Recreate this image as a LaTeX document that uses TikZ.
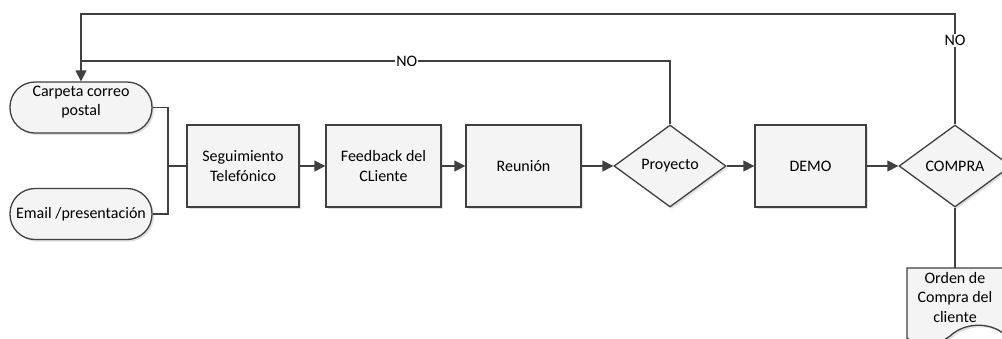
\documentclass[tikz,border=0pt]{standalone}
\usepackage{fontspec}
\setmainfont{Carlito}
\usepackage{xcolor}
\usetikzlibrary{shapes.geometric,arrows.meta,shadows}

\definecolor{linea}{HTML}{404040}
\definecolor{relleno}{HTML}{F4F4F4}

\tikzset{
	base/.style={draw=linea, line width=1.3pt, fill=relleno, inner sep=0pt, align=center,
		drop shadow={shadow xshift=2pt, shadow yshift=-2pt, fill=black!12, opacity=1}},
	inicio/.style={base, rectangle, rounded corners=25pt, minimum width=142pt, minimum height=51pt},
	paso/.style={base, rectangle, minimum height=82pt},
	decision/.style={base, diamond, aspect=1.366, minimum width=112pt, minimum height=82pt},
	conector/.style={draw=linea, line width=1.3pt},
	flecha/.style={conector, -{Triangle[length=11pt,width=11pt]}},
	etiq/.style={fill=white, inner sep=1pt}
}

\begin{document}
\begin{tikzpicture}[x=1pt, y=-1pt, font=\fontsize{16}{19.5}\selectfont, text=black]
	\useasboundingbox[fill=white] (0,0) rectangle (1002,338);

	\node[inicio, text depth=13pt] (carpeta) at (81,107.5) {Carpeta correo\\postal};
	\node[inicio] (email) at (81,214) {Email /presentación};
	\node[paso, minimum width=112pt] (seg) at (243,166) {Seguimiento\\Telefónico};
	\node[paso, minimum width=115pt] (feed) at (383.5,166) {Feedback del\\CLiente};
	\node[paso, minimum width=115pt] (reun) at (523.5,166) {Reunión};
	\node[decision] (proy) at (670,166) {Proyecto};
	\node[paso, minimum width=111pt] (demo) at (810.5,166) {DEMO};
	\node[decision] (compra) at (955,166) {COMPRA};

	% documento
	\filldraw[conector, fill=relleno, drop shadow={shadow xshift=2pt, shadow yshift=-2pt, fill=black!12, opacity=1}]
		(907,268) -- (1004,268) -- (1004,334) .. controls (990,322) and (965,322) .. (950,336)
		.. controls (935,348) and (915,345) .. (907,338) -- cycle;
	\node[align=center, inner sep=0pt] (orden) at (955,297) {Orden de\\Compra del\\cliente};
	\coordinate (ordentop) at (955,268);

	\coordinate (junta) at (168,166);
	\coordinate (arriba) at (81,14);
	\coordinate (medio) at (81,61);

	\draw[conector] (carpeta.east) -| (junta) |- (email.east);
	\draw[conector] (junta) -- (seg.west);
	\draw[flecha] (seg.east) -- (feed.west);
	\draw[flecha] (feed.east) -- (reun.west);
	\draw[flecha] (reun.east) -- (proy.west);
	\draw[flecha] (proy.east) -- (demo.west);
	\draw[flecha] (demo.east) -- (compra.west);
	\draw[conector] (compra.south) -- (ordentop);

	\draw[flecha] (compra.north) -- node[pos=.76, etiq]{NO} (compra.north |- arriba) -- (arriba) -- (carpeta.north);
	\draw[conector] (proy.north) -- (proy.north |- medio) -- node[pos=.447, etiq]{NO} (medio);
\end{tikzpicture}
\end{document}
